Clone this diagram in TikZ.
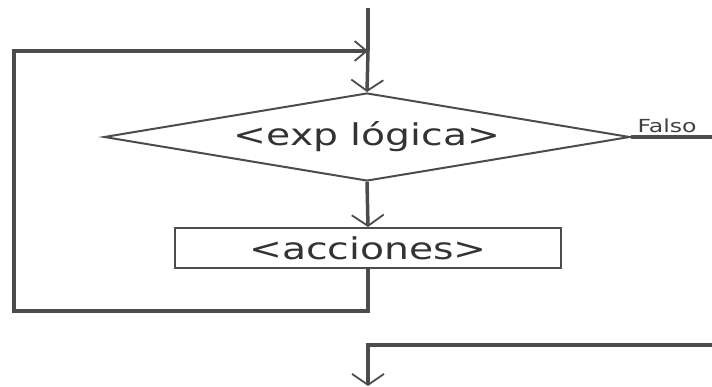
\documentclass[tikz,border=0pt]{standalone}
\usepackage{graphicx}
\usepackage{fontspec}
\setmainfont{DejaVu Sans}
\usepackage{tikz}
\usetikzlibrary{positioning}
\usetikzlibrary{shapes.geometric}
\usetikzlibrary{arrows.meta}

\begin{document}
\begin{tikzpicture}[x=1pt,y=-1pt,
  flujo/.style={draw=black!70, line width=3.5pt},
  bajada/.style={-{Straight Barb[length=11pt,width=32pt,line width=1.8pt]}},
  entrada/.style={-{Straight Barb[length=12pt,width=20pt,line width=1.8pt]}},
  rombo/.style={diamond, aspect=6, draw=black!70, line width=2pt, fill=white, inner sep=0pt,
    minimum width=526pt, minimum height=88pt, text=black!80},
  caja/.style={rectangle, draw=black!70, line width=2pt, fill=white, inner sep=0pt,
    minimum width=386pt, minimum height=40pt, text=black!80}]

\useasboundingbox (0,0) rectangle (712,387);

% decision and action
\node[rombo] (cond) at (367,137) {\scalebox{1.31}[1]{\fontsize{30}{36}\selectfont <exp lógica>}};
\node[caja] (acc) at (368,248) {\scalebox{1.31}[1]{\fontsize{30}{36}\selectfont <acciones>}};

\coordinate (inicio) at (368,8);
\coordinate (union) at (368,51);
\coordinate (esqA) at (14,311);
\coordinate (esqB) at (14,51);
\coordinate (salida) at (712,137);
\coordinate (fin) at (712,345);
\coordinate (abajo) at (368,386);

\draw[flujo] (inicio) -- (union);
\draw[flujo, bajada] (union) -- (cond.north);
\draw[flujo, bajada] (cond.south) -- (acc.north);

% loop back
\draw[flujo, entrada] (acc.south) |- (esqA) -- (esqB) -- (union);

% exit
\draw[flujo] (cond.east) -- (salida);
\node[anchor=base west, text=black!75] (falso) at (634,133) {\scalebox{1.31}[1]{\fontsize{18}{22}\selectfont Falso}};

\draw[flujo, bajada] (fin) -| (abajo);

\end{tikzpicture}
\end{document}
